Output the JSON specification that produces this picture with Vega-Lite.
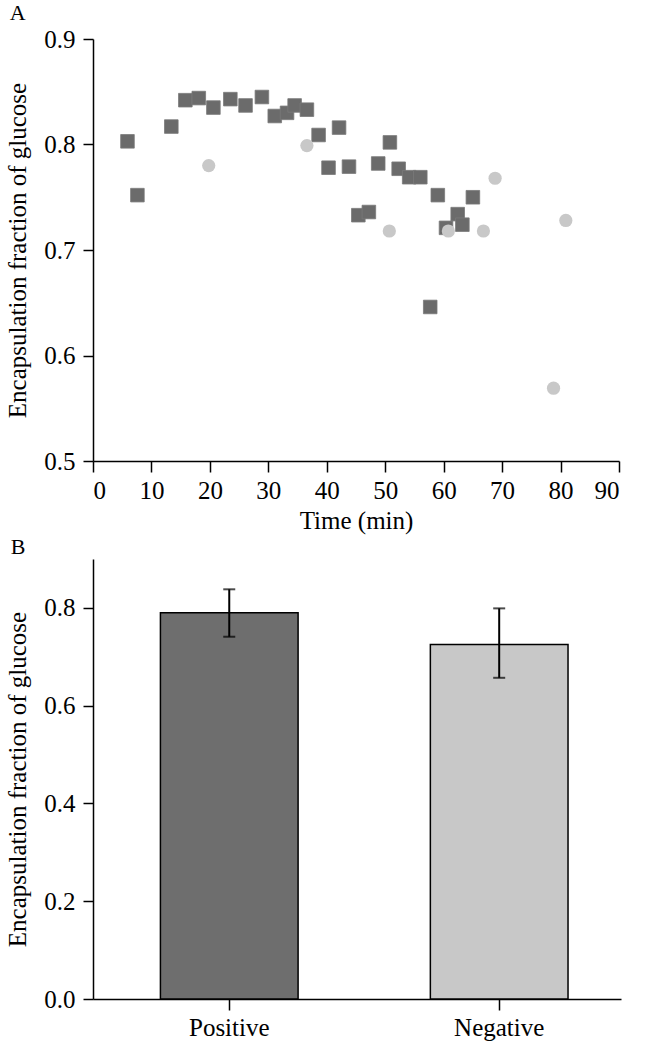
{
  "$schema": "https://vega.github.io/schema/vega-lite/v6.json",
  "background": "white",
  "padding": {"top": 2, "left": 5, "right": 5, "bottom": 5},
  "spacing": 3,
  "config": {
    "font": "Liberation Serif",
    "view": {"stroke": null},
    "axis": {
      "grid": false,
      "domainColor": "black",
      "domainWidth": 1.5,
      "tickColor": "black",
      "tickWidth": 1.5,
      "tickSize": 10,
      "labelColor": "black",
      "labelFont": "Liberation Serif",
      "labelFontSize": 25,
      "labelPadding": 6,
      "titleColor": "black",
      "titleFont": "Liberation Serif",
      "titleFontSize": 25,
      "titleFontWeight": "normal"
    },
    "title": {"font": "Liberation Serif", "fontSize": 22, "fontWeight": "normal", "color": "black", "anchor": "start", "frame": "bounds"}
  },
  "datasets": {
    "scatter": [
      {"time": 5.9, "frac": 0.803, "group": "Positive"},
      {"time": 7.6, "frac": 0.752, "group": "Positive"},
      {"time": 13.4, "frac": 0.817, "group": "Positive"},
      {"time": 15.8, "frac": 0.842, "group": "Positive"},
      {"time": 18.1, "frac": 0.844, "group": "Positive"},
      {"time": 20.6, "frac": 0.835, "group": "Positive"},
      {"time": 23.5, "frac": 0.843, "group": "Positive"},
      {"time": 26.1, "frac": 0.837, "group": "Positive"},
      {"time": 28.9, "frac": 0.845, "group": "Positive"},
      {"time": 31.1, "frac": 0.827, "group": "Positive"},
      {"time": 33.2, "frac": 0.830, "group": "Positive"},
      {"time": 34.5, "frac": 0.837, "group": "Positive"},
      {"time": 36.6, "frac": 0.833, "group": "Positive"},
      {"time": 38.6, "frac": 0.809, "group": "Positive"},
      {"time": 40.3, "frac": 0.778, "group": "Positive"},
      {"time": 42.1, "frac": 0.816, "group": "Positive"},
      {"time": 43.8, "frac": 0.779, "group": "Positive"},
      {"time": 45.4, "frac": 0.733, "group": "Positive"},
      {"time": 47.2, "frac": 0.736, "group": "Positive"},
      {"time": 48.8, "frac": 0.782, "group": "Positive"},
      {"time": 50.8, "frac": 0.802, "group": "Positive"},
      {"time": 52.3, "frac": 0.777, "group": "Positive"},
      {"time": 54.1, "frac": 0.769, "group": "Positive"},
      {"time": 56.0, "frac": 0.769, "group": "Positive"},
      {"time": 57.7, "frac": 0.646, "group": "Positive"},
      {"time": 59.0, "frac": 0.752, "group": "Positive"},
      {"time": 60.4, "frac": 0.721, "group": "Positive"},
      {"time": 62.4, "frac": 0.734, "group": "Positive"},
      {"time": 63.2, "frac": 0.724, "group": "Positive"},
      {"time": 65.0, "frac": 0.750, "group": "Positive"},
      {"time": 19.8, "frac": 0.780, "group": "Negative"},
      {"time": 36.6, "frac": 0.799, "group": "Negative"},
      {"time": 50.7, "frac": 0.718, "group": "Negative"},
      {"time": 60.8, "frac": 0.718, "group": "Negative"},
      {"time": 66.8, "frac": 0.718, "group": "Negative"},
      {"time": 68.8, "frac": 0.768, "group": "Negative"},
      {"time": 78.8, "frac": 0.569, "group": "Negative"},
      {"time": 80.9, "frac": 0.728, "group": "Negative"}
    ],
    "bars": [
      {"group": "Positive", "mean": 0.790, "lo": 0.741, "hi": 0.838},
      {"group": "Negative", "mean": 0.725, "lo": 0.657, "hi": 0.799}
    ]
  },
  "vconcat": [
    {
      "title": {"text": "A", "offset": 2, "dx": 4},
      "width": 526,
      "height": 422,
      "data": {"name": "scatter"},
      "encoding": {
        "x": {"field": "time", "type": "quantitative", "title": "Time (min)",
              "scale": {"domain": [0, 90], "nice": false, "zero": false},
              "axis": {"values": [0, 10, 20, 30, 40, 50, 60, 70, 80, 90], "tickSize": 11, "titlePadding": 5}},
        "y": {"field": "frac", "type": "quantitative", "title": "Encapsulation fraction of glucose",
              "scale": {"domain": [0.5, 0.9], "nice": false, "zero": false},
              "axis": {"values": [0.5, 0.6, 0.7, 0.8, 0.9], "format": ".1f", "labelPadding": 8, "titlePadding": 13}}
      },
      "layer": [
        {
          "transform": [{"filter": "datum.group === 'Positive'"}],
          "mark": {"type": "point", "shape": "square", "filled": true, "size": 185, "color": "#6b6b6b", "opacity": 1, "stroke": "#7a7a7a", "strokeWidth": 0.8}
        },
        {
          "transform": [{"filter": "datum.group === 'Negative'"}],
          "mark": {"type": "point", "shape": "circle", "filled": true, "size": 175, "color": "#c8c8c8", "opacity": 1}
        }
      ]
    },
    {
      "title": {"text": "B", "offset": 0, "dx": 5},
      "width": 528,
      "height": 440,
      "data": {"name": "bars"},
      "encoding": {
        "x": {"field": "group", "type": "nominal", "title": null, "sort": ["Positive", "Negative"],
              "scale": {"paddingInner": 0.49, "paddingOuter": 0.223, "align": 0.56},
              "axis": {"labelAngle": 0, "tickSize": 11, "labelPadding": 5}}
      },
      "layer": [
        {
          "mark": {"type": "bar", "stroke": "black", "strokeWidth": 1.5},
          "encoding": {
            "y": {"field": "mean", "type": "quantitative", "title": "Encapsulation fraction of glucose",
                  "scale": {"domain": [0, 0.9], "nice": false},
                  "axis": {"values": [0, 0.2, 0.4, 0.6, 0.8], "format": ".1f", "labelPadding": 8, "titlePadding": 13}},
            "color": {"field": "group", "type": "nominal", "legend": null,
                      "scale": {"domain": ["Positive", "Negative"], "range": ["#6e6e6e", "#c8c8c8"]}}
          }
        },
        {
          "mark": {"type": "rule", "color": "black", "strokeWidth": 2},
          "encoding": {
            "y": {"field": "lo", "type": "quantitative"},
            "y2": {"field": "hi"}
          }
        },
        {
          "mark": {"type": "tick", "color": "black", "thickness": 2, "size": 12},
          "encoding": {"y": {"field": "lo", "type": "quantitative"}}
        },
        {
          "mark": {"type": "tick", "color": "black", "thickness": 2, "size": 12},
          "encoding": {"y": {"field": "hi", "type": "quantitative"}}
        }
      ]
    }
  ]
}
